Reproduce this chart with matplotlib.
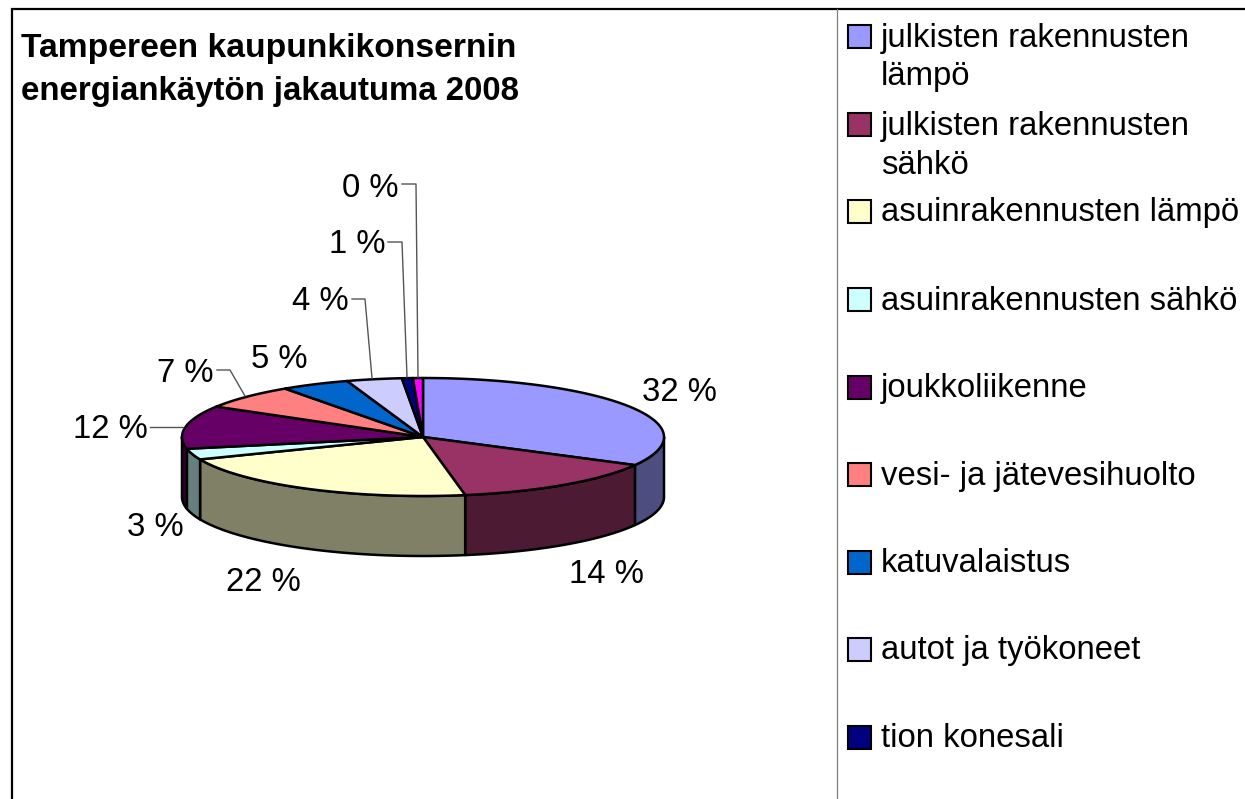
import numpy as np
import matplotlib
matplotlib.use("Agg")
import matplotlib.pyplot as plt
from matplotlib.patches import Polygon, Rectangle

plt.rcParams['font.family'] = ['Liberation Sans', 'DejaVu Sans']

# Data
categories = ["julkisten rakennusten\nlämpö", "julkisten rakennusten\nsähkö",
              "asuinrakennusten lämpö", "asuinrakennusten sähkö", "joukkoliikenne",
              "vesi- ja jätevesihuolto", "katuvalaistus", "autot ja työkoneet",
              "tion konesali"]
values = [32.9, 14.3, 21.6, 3.0, 11.8, 6.7, 4.6, 3.7, 0.73, 0.67]
pct_labels = ["32 %", "14 %", "22 %", "3 %", "12 %", "7 %", "5 %", "4 %", "1 %", "0 %"]
colors = ["#9999FF", "#993366", "#FFFFCC", "#CCFFFF", "#660066",
          "#FF8080", "#0066CC", "#CCCCFF", "#000080", "#FF00FF"]
title_lines = ["Tampereen kaupunkikonsernin", "energiankäytön jakautuma 2008"]

# Layout (pixels)
W, H = 1245, 799
CX, CY, RX, RY, DEPTH = 423, 437, 241, 59, 60
FS = 23.7
label_pos = [(679, 401), (606, 583), (263, 591), (155, 536), (110, 438),
             (185, 382), (279, 368), (320, 310), (357, 253), (370, 197)]
leaders = [[(150, 427), (183, 427)],
           [(217, 370), (230, 370), (245, 396)],
           [(352, 299), (365, 299), (372, 378)],
           [(388, 242), (402, 242), (407, 377)],
           [(402, 184), (416, 184), (418, 377)]]
legend_y = [36.5, 124.5, 211.5, 299.5, 387, 474.5, 562, 649, 737]
title_baselines = [57, 100]
title_sizes = [24.2, 23.8]

fig = plt.figure(figsize=(W / 100, H / 100), dpi=100)
ax = fig.add_axes([0, 0, 1, 1])
ax.set_xlim(0, W)
ax.set_ylim(H, 0)
ax.axis("off")


def darker(c):
    return tuple(v * 0.5 for v in matplotlib.colors.to_rgb(c))


def rim(a):
    return np.column_stack([CX + RX * np.sin(a), CY - RY * np.cos(a)])


fr = np.cumsum([0] + values) / sum(values) * 2 * np.pi
EDGE = dict(edgecolor="black", linewidth=1.8, joinstyle="round")

# Side walls, only the front half of the disc shows
for i, c in enumerate(colors):
    a0, a1 = max(fr[i], np.pi / 2), min(fr[i + 1], 3 * np.pi / 2)
    if a1 <= a0:
        continue
    arc = rim(np.linspace(a0, a1, 80))
    low = arc[::-1] + [0, DEPTH]
    ax.add_patch(Polygon(np.vstack([arc, low]), closed=True, facecolor=darker(c), zorder=2, **EDGE))

# Top of the disc
for i, c in enumerate(colors):
    arc = rim(np.linspace(fr[i], fr[i + 1], 120))
    ax.add_patch(Polygon(np.vstack([[CX, CY], arc]), closed=True, facecolor=c, zorder=3, **EDGE))

# Percent labels and leader lines
for txt, (x, y) in zip(pct_labels, label_pos):
    ax.text(x, y, txt, fontsize=FS, ha="center", va="baseline", color="black", zorder=5)
for pts in leaders:
    p = np.array(pts)
    ax.plot(p[:, 0], p[:, 1], color="#555555", lw=1.0, zorder=4)

# Title
for line, y, fs in zip(title_lines, title_baselines, title_sizes):
    ax.text(21, y, line, fontsize=fs, fontweight="bold", ha="left", va="baseline")

# Legend
for name, c, y in zip(categories, colors, legend_y):
    ax.add_patch(Rectangle((848, y - 11.5), 23, 23, facecolor=c, edgecolor="black", linewidth=1.5, zorder=3))
    for k, ln in enumerate(name.split("\n")):
        ax.text(881, y + 10 + k * 39, ln, fontsize=FS, ha="left", va="baseline", color="black")

# Frame and divider
ax.plot([W, 11.5, 11.5], [8.5, 8.5, H], color="black", lw=1.6, solid_joinstyle="miter")
ax.plot([837, 837], [9, H], color="#808080", lw=0.9)

fig.savefig("out.png", dpi=100, facecolor="white")
